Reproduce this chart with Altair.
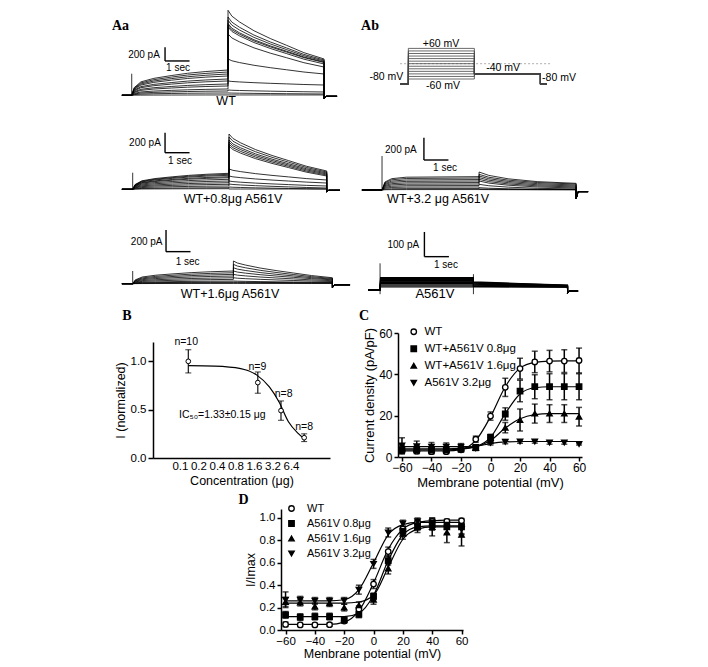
import altair as alt
import pandas as pd

FONT = "Liberation Sans"
SERIF = "Liberation Serif"
PAGE = 8          # page margin of the html page
W, H = 692, 651   # one shared drawing area; each panel gets its own scales

# ================= Panel A : current traces (pA) =================
# per sweep: level at end of the step, tail peak, tail end
WT_PULSE = [369, 340, 311, 282, 238, 209, 165, 136, 92, 63, 34, 5]
WT_PEAK = [1241, 1143, 1095, 1046, 1022, 997, 895, 530, 209, 77, 34, 5]
WT_END = [530, 515, 500, 486, 479, 457, 413, 311, 150, 48, 19, 5]

W08_PULSE = [160, 150, 140, 126, 116, 100, 83, 66, 50, 33, 16, 6]
W08_PEAK = [553, 523, 493, 473, 453, 433, 203, 133, 83, 53, 23, 3]
W08_END = [183, 173, 163, 153, 143, 133, 93, 63, 33, 13, 3, 3]

W16_PULSE = [117, 101, 86, 71, 55, 40, 25, 15, 9, 3]
W16_PEAK = [209, 178, 147, 117, 86, 55, 25, 15, 9, 3]
W16_END = [55, 48, 42, 36, 28, 20, 12, 8, 5, 3]

W32_PULSE = [120, 108, 94, 81, 67, 54, 40, 27, 13, 4]
W32_PEAK = [162, 141, 126, 111, 96, 81, 51, 21, 9, 4]
W32_END = [60, 54, 45, 36, 27, 18, 9, 4, 3, 2]

MUT_PULSE = [50, 46, 42, 39, 36, 33, 30, 27, 24, 20, 16, 12]
MUT_PEAK = [33, 31, 29, 27, 25, 23, 21, 19, 17, 15, 14, 13]
MUT_END = [20, 19, 18, 17, 16, 15, 14, 14, 13, 12, 12, 11]

# sweep timing (s): pre-baseline, step on, tail on, tail off, post
WT_T = [-0.4, 0.0, 3.93, 7.85, 8.38]
W08_T = [-0.4, 0.04, 3.97, 7.96, 8.5]
W16_T = [-0.4, 0.04, 4.15, 8.19, 8.91]
W32_T = [-0.82, 0.0, 3.96, 7.92, 8.41]
MUT_T = [-0.57, -0.08, 3.73, 7.57, 8.0]

# shape of activation / tail decay (fraction of step)
GEN_PTAU = [0, 0.025, 0.095, 0.23, 0.41, 0.58, 0.77, 1.0]
GEN_PF = [0, 0.3, 0.53, 0.67, 0.78, 0.87, 0.94, 1.0]
GEN_TTAU = [0, 0.04, 0.12, 0.27, 0.44, 0.61, 0.79, 1.0]
GEN_TG = [1, 0.88, 0.76, 0.58, 0.42, 0.28, 0.13, 0]
W32_PTAU = [0, 0.03, 0.1, 0.25, 1.0]
W32_PF = [0, 0.6, 0.85, 0.96, 1.0]
W32_TTAU = [0, 0.1, 0.3, 0.6, 1.0]
W32_TG = [1, 0.7, 0.4, 0.15, 0]
MUT_PTAU = [0, 0.005, 1.0]
MUT_PF = [0, 1, 1]
MUT_TTAU = [0, 0.5, 1.0]
MUT_TG = [1, 0.5, 0]

# capacitive spikes (t, low, high)
WT_SPK = [[0.0], [0], [315]]
W08_SPK = [[0.04], [0], [166]]
W16_SPK = [[0.04], [0], [117]]
W32_SPK = [[0.0], [0], [306]]
MUT_SPK = [[-0.08, 3.73, 7.57], [-17, -17, -11], [108, 64, 13]]

# protocol (Ab)
PROT_STEPS = [-60, -50, -40, -30, -20, -10, 0, 10, 20, 30, 40, 50, 60]
PROT_T = [-0.5, 0.0, 4.0, 8.0, 8.4]
PROT_HOLD = -80
PROT_TAIL = -40

# ================= Panel B =================
B_CONC = [0.1, 0.8, 1.6, 3.2]
B_MEAN = [1.0, 0.78, 0.49, 0.21]
B_ERR = [0.12, 0.11, 0.10, 0.04]
B_N = ["n=10", "n=9", "n=8", "n=8"]
B_FIT_C = [0.1, 0.22, 0.48, 0.77, 1.13, 1.51, 2.0, 2.67, 3.2]
B_FIT_I = [0.955, 0.95, 0.925, 0.86, 0.735, 0.58, 0.375, 0.255, 0.2]
B_TICKS = [0.1, 0.2, 0.4, 0.8, 1.6, 3.2, 6.4]

# ================= Panel C =================
VOLT = [-60, -50, -40, -30, -20, -10, 0, 10, 20, 30, 40, 50, 60]
C_NAMES = ["WT", "WT+A561V 0.8μg", "WT+A561V 1.6μg", "A561V 3.2μg"]
C_MEAN = [
    [3.0, 2.8, 2.6, 2.6, 3.5, 8.6, 19.8, 33.7, 42.8, 46.0, 46.4, 46.4, 46.7],
    [3.5, 3.5, 3.3, 3.3, 3.8, 4.6, 9.5, 20.8, 31.9, 34.0, 34.0, 34.0, 34.0],
    [4.2, 4.0, 3.8, 3.8, 4.2, 4.4, 8.0, 14.2, 17.9, 21.0, 21.0, 21.0, 19.5],
    [5.5, 5.2, 5.0, 5.0, 5.0, 4.2, 6.8, 7.4, 7.5, 7.5, 7.0, 7.0, 6.3],
]
C_ERR = [
    [1.5, 1.2, 1.2, 1.0, 1.0, 1.5, 2.0, 4.4, 5.0, 5.2, 5.2, 5.5, 6.0],
    [1.5, 1.5, 1.5, 1.2, 1.2, 1.2, 1.5, 3.0, 5.2, 5.8, 6.3, 6.3, 6.3],
    [1.5, 1.5, 1.2, 1.2, 1.2, 1.2, 1.5, 2.5, 5.3, 4.6, 4.3, 4.3, 4.5],
    [3.8, 2.5, 2.0, 1.8, 1.5, 1.0, 1.0, 1.0, 0.8, 0.8, 0.8, 0.8, 0.5],
]
C_FIT = [
    [3.0, 3.0, 3.0, 3.0, 3.6, 8.0, 19.5, 34.0, 43.0, 45.8, 46.4, 46.5, 46.5],
    [3.5, 3.5, 3.5, 3.5, 3.8, 5.0, 9.5, 21.0, 30.5, 33.5, 34.0, 34.0, 34.0],
    [4.0, 4.0, 4.0, 4.0, 4.2, 5.0, 8.0, 14.0, 18.5, 20.5, 21.0, 21.0, 21.0],
    [5.0, 5.0, 5.0, 5.0, 5.0, 5.2, 6.5, 7.3, 7.5, 7.5, 7.5, 7.5, 7.5],
]

# ================= Panel D =================
D_NAMES = ["WT", "A561V 0.8μg", "A561V 1.6μg", "A561V 3.2μg"]
D_MEAN = [
    [0.05, 0.045, 0.045, 0.047, 0.08, 0.185, 0.41, 0.70, 0.90, 0.96, 0.97, 0.97, 0.975],
    [0.135, 0.115, 0.12, 0.12, 0.09, 0.14, 0.30, 0.62, 0.88, 0.93, 0.94, 0.92, 0.92],
    [0.25, 0.245, 0.21, 0.24, 0.20, 0.22, 0.27, 0.55, 0.86, 0.92, 0.92, 0.87, 0.85],
    [0.27, 0.27, 0.26, 0.26, 0.26, 0.36, 0.59, 0.87, 0.95, 0.97, 0.96, 0.94, 0.90],
]
D_ERR = [
    [0.02, 0.015, 0.015, 0.015, 0.02, 0.03, 0.04, 0.04, 0.03, 0.02, 0.02, 0.02, 0.02],
    [0.03, 0.03, 0.03, 0.03, 0.02, 0.03, 0.03, 0.04, 0.04, 0.04, 0.05, 0.06, 0.06],
    [0.04, 0.03, 0.03, 0.03, 0.03, 0.03, 0.04, 0.05, 0.05, 0.05, 0.08, 0.09, 0.10],
    [0.07, 0.03, 0.03, 0.03, 0.03, 0.04, 0.04, 0.04, 0.03, 0.03, 0.04, 0.04, 0.05],
]
D_FIT = [
    [0.05, 0.05, 0.05, 0.05, 0.07, 0.17, 0.42, 0.72, 0.90, 0.96, 0.975, 0.98, 0.98],
    [0.12, 0.12, 0.12, 0.12, 0.12, 0.15, 0.31, 0.62, 0.85, 0.92, 0.93, 0.93, 0.93],
    [0.24, 0.24, 0.24, 0.24, 0.24, 0.25, 0.31, 0.56, 0.81, 0.90, 0.92, 0.92, 0.92],
    [0.26, 0.26, 0.26, 0.26, 0.27, 0.36, 0.60, 0.85, 0.94, 0.96, 0.96, 0.96, 0.96],
]

# ---------------- panel frames on the page (left, right, top, bottom) ----------------
F_LEFT1, F_LEFT2, F_LEFT3 = (118, 352, 8, 105), (118, 352, 105, 207), (118, 352, 207, 300)
F_RIGHT1, F_RIGHT2, F_RIGHT3 = (358, 594, 8, 105), (358, 594, 105, 207), (358, 594, 207, 300)
F_B = (153, 330, 340, 456)
F_C = (398, 582, 331, 455)
F_D = (281, 463, 507, 628)


def xr(f):
    return [f[0] - PAGE, f[1] - PAGE]


def yr(f):
    return [f[3] - PAGE, f[2] - PAGE]


def trace_df(pulse, peak, end, tms, ptau, pf, ttau, tg, dip, post):
    t_pre, t0, t1, t2, t3 = tms
    rows = []
    for k in range(len(pulse)):
        p, pk, e = pulse[k], peak[k], end[k]
        pts = [(t_pre, 0.0)]
        pts += [(t0 + a * (t1 - t0), p * f) for a, f in zip(ptau, pf)]
        pts += [(t1 + a * (t2 - t1), e + (pk - e) * g) for a, g in zip(ttau, tg)]
        pts += [(t2, dip), (t2 + 0.08, post), (t3, post)]
        rows += [{"k": k, "o": i, "t": t, "v": v} for i, (t, v) in enumerate(pts)]
    return pd.DataFrame(rows)


def text_df(items):
    return pd.DataFrame(items, columns=["t", "v", "s", "fs"])


def trace_panel(lines, spk, bar, texts, xdom, ydom, frame, letter=None, lw=0.8):
    X = alt.X("t:Q", scale=alt.Scale(domain=xdom, range=xr(frame), nice=False, zero=False), axis=None)
    Y = alt.Y("v:Q", scale=alt.Scale(domain=ydom, range=yr(frame), nice=False, zero=False), axis=None)
    layers = [
        alt.Chart(lines).mark_line(color="black", strokeWidth=lw).encode(
            x=X, y=Y, detail="k:N", order="o:Q"),
        alt.Chart(pd.DataFrame({"t": spk[0], "v": spk[1], "v2": spk[2]}))
        .mark_rule(color="black", strokeWidth=0.8).encode(x=X, y=Y, y2="v2:Q"),
    ]
    tb, v0, amp = bar
    bdf = pd.DataFrame({"t": [tb, tb], "t2": [tb, tb + 1.0], "v": [v0, v0], "v2": [v0 + amp, v0]})
    layers.append(alt.Chart(bdf).mark_rule(color="black", strokeWidth=1.4)
                  .encode(x=X, x2="t2:Q", y=Y, y2="v2:Q"))
    layers.append(alt.Chart(texts).mark_text(color="black", font=FONT, baseline="middle")
                  .encode(x=X, y=Y, text="s:N", size=alt.Size("fs:Q", scale=None)))
    if letter is not None:
        layers.append(alt.Chart(text_df([letter])).mark_text(
            color="black", font=SERIF, fontWeight="bold", baseline="alphabetic")
            .encode(x=X, y=Y, text="s:N", size=alt.Size("fs:Q", scale=None)))
    return alt.layer(*layers)


LEFT_X = [-0.56, 8.99]
RIGHT_X = [-0.98, 8.65]

wt = trace_panel(
    trace_df(WT_PULSE, WT_PEAK, WT_END, WT_T, GEN_PTAU, GEN_PF, GEN_TTAU, GEN_TG, -48, -15),
    WT_SPK, (1.36, 501, 200),
    text_df([(0.5, 584, "200 pA", 10), (1.89, 399, "1 sec", 10), (3.85, -88, "WT", 12.5)]),
    LEFT_X, [-171, 1245], F_LEFT1, letter=(-0.46, 953, "Aa", 14))

w08 = trace_panel(
    trace_df(W08_PULSE, W08_PEAK, W08_END, W08_T, GEN_PTAU, GEN_PF, GEN_TTAU, GEN_TG, -25, -10),
    W08_SPK, (1.36, 366, 200),
    text_df([(0.54, 466, "200 pA", 10), (1.97, 283, "1 sec", 10), (4.13, -97, "WT+0.8μg A561V", 12.5)]),
    LEFT_X, [-197, 823], F_LEFT2)

w16 = trace_panel(
    trace_df(W16_PULSE, W16_PEAK, W16_END, W16_T, GEN_PTAU, GEN_PF, GEN_TTAU, GEN_TG, -37, -10),
    W16_SPK, (1.4, 295, 200),
    text_df([(0.61, 384, "200 pA", 10), (2.28, 200, "1 sec", 10), (4.01, -95, "WT+1.6μg A561V", 12.5)]),
    LEFT_X, [-168, 687], F_LEFT3)

w32 = trace_panel(
    trace_df(W32_PULSE, W32_PEAK, W32_END, W32_T, W32_PTAU, W32_PF, W32_TTAU, W32_TG, -81, -15),
    W32_SPK, (1.71, 270, 200),
    text_df([(0.77, 360, "200 pA", 10), (2.57, 198, "1 sec", 10), (2.29, -81, "WT+3.2 μg A561V", 12.5)]),
    RIGHT_X, [-171, 747], F_RIGHT2)

mut = trace_panel(
    trace_df(MUT_PULSE, MUT_PEAK, MUT_END, MUT_T, MUT_PTAU, MUT_PF, MUT_TTAU, MUT_TG, -11, -4),
    MUT_SPK, (1.73, 135, 100),
    text_df([(0.87, 181, "100 pA", 10), (2.61, 100, "1 sec", 10), (2.16, -17, "A561V", 13)]),
    RIGHT_X, [-48.6, 328], F_RIGHT3, lw=1.1)

# protocol
prot_rows = []
for k, V in enumerate(PROT_STEPS):
    pts = [(PROT_T[0], PROT_HOLD), (PROT_T[1], PROT_HOLD), (PROT_T[1], V), (PROT_T[2], V),
           (PROT_T[2], PROT_TAIL), (PROT_T[3], PROT_TAIL), (PROT_T[3], PROT_HOLD), (PROT_T[4], PROT_HOLD)]
    prot_rows += [{"k": k, "o": i, "t": t, "v": v} for i, (t, v) in enumerate(pts)]
PX = alt.X("t:Q", scale=alt.Scale(domain=[-3.05, 11.25], range=xr(F_RIGHT1), nice=False, zero=False),
           axis=None)
PY = alt.Y("v:Q", scale=alt.Scale(domain=[-169.8, 210.6], range=yr(F_RIGHT1), nice=False, zero=False),
           axis=None)
prot = alt.layer(
    alt.Chart(pd.DataFrame({"t": [-0.5], "t2": [8.62], "v": [0]})).mark_rule(
        color="#999999", strokeWidth=0.8, strokeDash=[2, 2]).encode(x=PX, x2="t2:Q", y=PY),
    alt.Chart(pd.DataFrame(prot_rows)).mark_line(color="#444444", strokeWidth=0.8).encode(
        x=PX, y=PY, detail="k:N", order="o:Q"),
    alt.Chart(text_df([(1.98, 78, "+60 mV", 10.5), (2.1, -87, "-60 mV", 10.5), (-1.33, -52, "-80 mV", 10.5),
                       (5.74, -17, "-40 mV", 10.5), (9.13, -55, "-80 mV", 10.5)])).mark_text(
        color="black", font=FONT, baseline="middle").encode(
        x=PX, y=PY, text="s:N", size=alt.Size("fs:Q", scale=None)),
    alt.Chart(text_df([(-2.32, 133, "Ab", 14)])).mark_text(
        color="black", font=SERIF, fontWeight="bold", baseline="alphabetic").encode(
        x=PX, y=PY, text="s:N", size=alt.Size("fs:Q", scale=None)),
)

# ---------------- B ----------------
b_df = pd.DataFrame({"c": B_CONC, "v": B_MEAN,
                     "lo": [m - e for m, e in zip(B_MEAN, B_ERR)],
                     "hi": [m + e for m, e in zip(B_MEAN, B_ERR)]})
b_fit = pd.DataFrame({"c": B_FIT_C, "v": B_FIT_I})
b_txt = pd.DataFrame({"c": [0.094, 0.79, 1.73, 3.2, 0.277],
                      "v": [1.196, 0.941, 0.667, 0.323, 0.443],
                      "s": B_N + ["IC₅₀=1.33±0.15 μg"]})
cs = alt.Scale(type="log", base=2, domain=[0.0348, 6.93], range=xr(F_B), nice=False)
bys = alt.Scale(domain=[0, 1.2], range=yr(F_B), nice=False, zero=False)
bax = alt.Axis(values=[0, 0.5, 1.0], format=".1f", title="I (normalized)", tickSize=5, orient="left",
               offset=-(F_B[0] - PAGE), labelPadding=2, titlePadding=3, labelFontSize=11.5,
               titleFontSize=12.5)


def bY(f):
    return alt.Y(f, scale=bys, axis=bax)


bX = alt.X("c:Q", scale=cs, axis=None)
B = alt.layer(
    alt.Chart(pd.DataFrame({"tick": B_TICKS, "v": [0.0] * len(B_TICKS)})).mark_point(opacity=0).encode(
        x=alt.X("tick:Q", scale=alt.Scale(type="log", base=2, domain=[0.0364, 27.6], range=xr(F_B),
                                          nice=False),
                axis=alt.Axis(values=B_TICKS, format=".1f", title="Concentration (μg)", orient="bottom",
                              offset=(F_B[3] - PAGE) - H, ticks=False, labelPadding=2, titlePadding=3,
                              labelFontSize=11.5, titleFontSize=12.5, labelOverlap=False,
                              labelFlush=False)),
        y=bY("v:Q")),
    alt.Chart(b_fit).mark_line(color="black", strokeWidth=1.2, interpolate="monotone").encode(x=bX, y=bY("v:Q")),
    alt.Chart(b_df).mark_rule(color="black", strokeWidth=1.1).encode(x=bX, y=bY("lo:Q"), y2="hi:Q"),
    alt.Chart(b_df).mark_tick(color="black", orient="horizontal", size=6, thickness=1.1).encode(x=bX, y=bY("lo:Q")),
    alt.Chart(b_df).mark_tick(color="black", orient="horizontal", size=6, thickness=1.1).encode(x=bX, y=bY("hi:Q")),
    alt.Chart(b_df).mark_point(shape="circle", size=22, filled=True, fill="white", stroke="black",
                               strokeWidth=1, opacity=1).encode(x=bX, y=bY("v:Q")),
    alt.Chart(b_txt).mark_text(color="black", font=FONT, fontSize=10.5, baseline="middle").encode(
        x=bX, y=bY("v:Q"), text="s:N"),
    alt.Chart(pd.DataFrame({"c": [0.016], "v": [1.423], "s": ["B"]})).mark_text(
        color="black", font=SERIF, fontWeight="bold", fontSize=14, baseline="alphabetic").encode(
        x=bX, y=bY("v:Q"), text="s:N"),
).resolve_scale(x="independent")


# ---------------- C / D ----------------
def iv_panel(names, means, errs, fits, xdom, ydom, frame, yvals, yfmt, ytitle, xtitle,
             leg, letter, lab_fs, title_fs, xtpad):
    rows, frows = [], []
    for n, m, e, f in zip(names, means, errs, fits):
        for v, mm, ee, ff in zip(VOLT, m, e, f):
            rows.append({"s": n, "V": v, "m": mm, "lo": mm - ee, "hi": mm + ee})
            frows.append({"s": n, "V": v, "f": ff})
    df = pd.DataFrame(rows)
    fdf = pd.DataFrame(frows)
    ys = alt.Scale(domain=ydom, range=yr(frame), nice=False, zero=False)
    yax = alt.Axis(values=yvals, format=yfmt, title=ytitle, tickSize=4, labelPadding=2, orient="left",
                   offset=-(frame[0] - PAGE), titlePadding=2, labelFontSize=lab_fs, titleFontSize=title_fs)
    X = alt.X("V:Q", scale=alt.Scale(domain=xdom, range=xr(frame), nice=False, zero=False),
              axis=alt.Axis(values=[-60, -40, -20, 0, 20, 40, 60], format="d", title=xtitle, tickSize=4,
                            orient="bottom", offset=(frame[3] - PAGE) - H, labelFlush=False,
                            labelOverlap=False, labelPadding=1, titlePadding=xtpad, labelFontSize=lab_fs,
                            titleFontSize=title_fs))

    def Y(f):
        return alt.Y(f, scale=ys, axis=yax)

    legend = alt.Legend(orient="none", legendX=leg[0] - PAGE, legendY=leg[1] - PAGE, title=None,
                        labelFont=FONT, labelFontSize=leg[4], labelColor="black",
                        symbolStrokeColor="black", symbolStrokeWidth=1.3, symbolSize=30,
                        labelOffset=leg[2], rowPadding=leg[3], padding=0)
    shape = alt.Shape("s:N", scale=alt.Scale(domain=names, range=["circle", "square", "triangle-up",
                                                                   "triangle-down"]), legend=legend)
    fill = alt.Fill("s:N", scale=alt.Scale(domain=names, range=["white", "black", "black", "black"]),
                    legend=legend)
    stroke = alt.Stroke("s:N", scale=alt.Scale(domain=names, range=["black", "black", "black", "black"]),
                        legend=legend)
    return alt.layer(
        alt.Chart(fdf).mark_line(color="black", strokeWidth=1.2, interpolate="monotone").encode(
            x=X, y=Y("f:Q"), detail="s:N"),
        alt.Chart(df).mark_rule(color="black", strokeWidth=1.5).encode(x=X, y=Y("lo:Q"), y2="hi:Q"),
        alt.Chart(df).mark_tick(color="black", orient="horizontal", size=6, thickness=1.5).encode(
            x=X, y=Y("lo:Q")),
        alt.Chart(df).mark_tick(color="black", orient="horizontal", size=6, thickness=1.5).encode(
            x=X, y=Y("hi:Q")),
        alt.Chart(df).mark_point(filled=True, size=30, strokeWidth=1.3, opacity=1).encode(
            x=X, y=Y("m:Q"), shape=shape, fill=fill, stroke=stroke),
        alt.Chart(pd.DataFrame({"V": [letter[0]], "m": [letter[1]], "s": [letter[2]]})).mark_text(
            color="black", font=SERIF, fontWeight="bold", fontSize=14, baseline="alphabetic").encode(
            x=X, y=Y("m:Q"), text="s:N"),
    )


C = iv_panel(C_NAMES, C_MEAN, C_ERR, C_FIT, [-62.7, 62], [0, 60], F_C, [0, 20, 40, 60], "d",
             "Current density (pA/pF)", "Membrane potential (mV)", (408, 324, 5, 4, 11.5),
             (-85.7, 66.3, "C"), 12, 13, 3)
D = iv_panel(D_NAMES, D_MEAN, D_ERR, D_FIT, [-63.1, 61], [0, 1.08], F_D,
             [0, 0.2, 0.4, 0.6, 0.8, 1.0], ".1f", "I/Imax", "Menbrane potential (mV)",
             (286, 501, 10, 3, 11), (-88.6, 1.125, "D"), 11.5, 12.5, 1)

chart = alt.layer(wt, prot, w08, w32, w16, mut, B, C, D).resolve_scale(
    x="independent", y="independent", shape="independent", fill="independent", stroke="independent"
).resolve_legend(shape="independent", fill="independent", stroke="independent").properties(
    width=W, height=H, padding=0
).configure_view(strokeWidth=0).configure_axis(
    labelFont=FONT, titleFont=FONT, labelColor="black", titleColor="black", domainColor="black",
    tickColor="black", domainWidth=1.5, tickWidth=1.5, grid=False, titleFontWeight="normal"
)

chart.save("out.html", embed_options={"renderer": "svg", "actions": False})
